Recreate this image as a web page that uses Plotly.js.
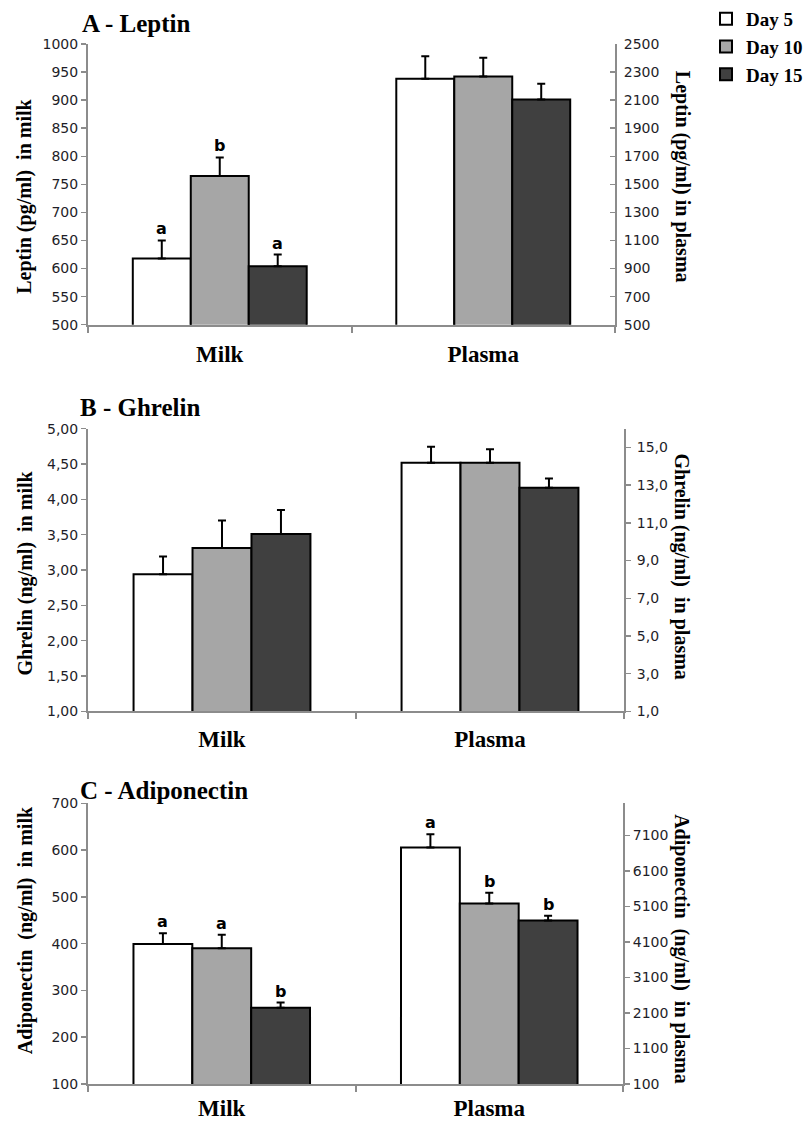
<!DOCTYPE html>
<html>
<head>
<meta charset="utf-8">
<script src="https://cdn.plot.ly/plotly-3.0.1.min.js"></script>
<style>html,body{margin:0;padding:0;background:#fff;}#chart{width:811px;height:1122px;}</style>
</head>
<body>
<div id="chart"></div>
<script>
// ---- data ----
const categories = ['Milk', 'Plasma'];
const days = ['Day 5', 'Day 10', 'Day 15'];

const leptinMilk = [618, 765, 604];
const leptinMilkSE = [32, 33, 21];
const leptinMilkLetters = ['a', 'b', 'a'];
const leptinPlasma = [2252, 2268, 2105];
const leptinPlasmaSE = [160, 133, 112];

const ghrelinMilk = [2.94, 3.31, 3.51];
const ghrelinMilkSE = [0.25, 0.39, 0.34];
const ghrelinPlasma = [14.19, 14.19, 12.86];
const ghrelinPlasmaSE = [0.85, 0.72, 0.50];

const adipoMilk = [399, 390, 263];
const adipoMilkSE = [23, 29, 11];
const adipoMilkLetters = ['a', 'a', 'b'];
const adipoPlasma = [6754, 5180, 4702];
const adipoPlasmaSE = [374, 300, 130];
const adipoPlasmaLetters = ['a', 'b', 'b'];

// ---- styles ----
const fills = ['#ffffff', '#a6a6a6', '#404040'];
const barW = 0.22;
const offsets = [-0.33, -0.11, 0.11];
const axisColor = '#8c8c8c';
const serif = 'Liberation Serif, Times New Roman, serif';
const sans = 'DejaVu Sans, Verdana, sans-serif';
const W = 811, H = 1122;
const px = v => v / W;
const py = v => 1 - v / H;

const traces = [];
const annotations = [];

function addSeries(vals, se, cat, xa, ya, legend) {
  vals.forEach((v, i) => {
    traces.push({
      type: 'bar', x: [cat], y: [v], xaxis: xa, yaxis: ya,
      name: days[i], legendgroup: days[i], showlegend: legend,
      width: barW, offset: offsets[i],
      marker: {color: fills[i], line: {color: '#000', width: 2}},
      error_y: {type: 'data', symmetric: false, array: [se[i]], arrayminus: [0],
                color: '#000', thickness: 2, width: 4},
      hoverinfo: 'skip'
    });
  });
}
function addLetters(letters, vals, se, catIdx, xref, yref) {
  letters.forEach((t, i) => {
    annotations.push({
      text: t, xref: xref, yref: yref,
      x: catIdx + offsets[i] + barW / 2, y: vals[i] + se[i],
      xanchor: 'center', yanchor: 'bottom', yshift: 0, showarrow: false,
      font: {family: sans, size: 16, color: '#000', weight: 'bold'}
    });
  });
}

addSeries(leptinMilk, leptinMilkSE, 'Milk', 'x', 'y', true);
addSeries(leptinPlasma, leptinPlasmaSE, 'Plasma', 'x', 'y2', false);
addSeries(ghrelinMilk, ghrelinMilkSE, 'Milk', 'x2', 'y3', false);
addSeries(ghrelinPlasma, ghrelinPlasmaSE, 'Plasma', 'x2', 'y4', false);
addSeries(adipoMilk, adipoMilkSE, 'Milk', 'x3', 'y5', false);
addSeries(adipoPlasma, adipoPlasmaSE, 'Plasma', 'x3', 'y6', false);

addLetters(leptinMilkLetters, leptinMilk, leptinMilkSE, 0, 'x', 'y');
addLetters(adipoMilkLetters, adipoMilk, adipoMilkSE, 0, 'x3', 'y5');
addLetters(adipoPlasmaLetters, adipoPlasma, adipoPlasmaSE, 1, 'x3', 'y6');

function title(text, x, y) {
  annotations.push({text: text, xref: 'paper', yref: 'paper', x: px(x), y: py(y),
    xanchor: 'left', yanchor: 'middle', showarrow: false,
    font: {family: serif, size: 25, color: '#000', weight: 'bold'}});
}
function ytitle(text, x, y, angle) {
  annotations.push({text: text, xref: 'paper', yref: 'paper', x: px(x), y: py(y),
    xanchor: 'center', yanchor: 'middle', showarrow: false, textangle: angle,
    font: {family: serif, size: 20, color: '#000', weight: 'bold'}});
}
title('A - Leptin', 80, 23);
title('B - Ghrelin', 78, 407);
title('C - Adiponectin', 78, 790);
ytitle('Leptin (pg/ml)&nbsp; in milk', 25, 196, -90);
ytitle('Leptin (pg/ml) in plasma', 682, 176, 90);
ytitle('Ghrelin (ng/ml)&nbsp; in milk', 25, 573, -90);
ytitle('Ghrelin (ng/ml)&nbsp; in plasma', 682, 566, 90);
ytitle('Adiponectin&nbsp; (ng/ml)&nbsp; in milk', 25, 930, -90);
ytitle('Adiponectin&nbsp; (ng/ml)&nbsp; in plasma', 682, 948, 90);

function xax(x0, x1, anchor, standoff) {
  return {domain: [px(x0), px(x1)], anchor: anchor, type: 'category',
    categoryorder: 'array', categoryarray: categories, range: [-0.5, 1.5],
    showline: true, linecolor: axisColor, linewidth: 2,
    ticks: 'outside', tickson: 'boundaries', ticklen: 6, tickwidth: 2, tickcolor: axisColor,
    ticklabelstandoff: standoff,
    tickfont: {family: serif, size: 23, color: '#000', weight: 'bold'},
    showgrid: false, zeroline: false, fixedrange: true};
}
function yax(top, bottom, anchor, range, tick0, dtick, fmt, extra) {
  return Object.assign({domain: [py(bottom), py(top)], anchor: anchor, range: range,
    tick0: tick0, dtick: dtick, tickformat: fmt,
    showline: true, linecolor: axisColor, linewidth: 2,
    ticks: 'outside', ticklen: 5, tickwidth: 1.5, tickcolor: axisColor,
    tickfont: {family: sans, size: 14, color: '#1e1e28'},
    showgrid: false, zeroline: false, fixedrange: true}, extra || {});
}

const layout = {
  width: W, height: H, margin: {l: 0, r: 0, t: 0, b: 0},
  paper_bgcolor: '#fff', plot_bgcolor: 'rgba(0,0,0,0)',
  separators: ',.', barmode: 'group', showlegend: true,
  legend: {x: px(706), y: py(-1), xanchor: 'left', yanchor: 'top',
    font: {family: serif, size: 19, color: '#000', weight: 'bold'},
    tracegroupgap: 0, itemwidth: 30, bgcolor: 'rgba(0,0,0,0)'},
  xaxis: xax(88, 615, 'y', 8),
  yaxis: yax(43, 324, 'x', [500, 1000], 500, 50, 'd'),
  yaxis2: yax(43, 324, 'x', [500, 2500], 500, 200, 'd',
    {overlaying: 'y', side: 'right', ticks: 'inside', ticklabelstandoff: 4}),
  xaxis2: xax(88, 624, 'y3', 6),
  yaxis3: yax(428, 711, 'x2', [1, 5], 1, 0.5, '.2f'),
  yaxis4: yax(428, 711, 'x2', [1, 16], 1, 2, '.1f',
    {overlaying: 'y3', side: 'right', ticklabelstandoff: 3}),
  xaxis3: xax(88, 623, 'y5', 2),
  yaxis5: yax(803, 1084, 'x3', [100, 700], 100, 100, 'd'),
  yaxis6: yax(803, 1084, 'x3', [100, 8000], 100, 1000, 'd',
    {overlaying: 'y5', side: 'right'}),
  annotations: annotations
};

Plotly.newPlot('chart', traces, layout, {staticPlot: true, displayModeBar: false});
</script>
</body>
</html>
